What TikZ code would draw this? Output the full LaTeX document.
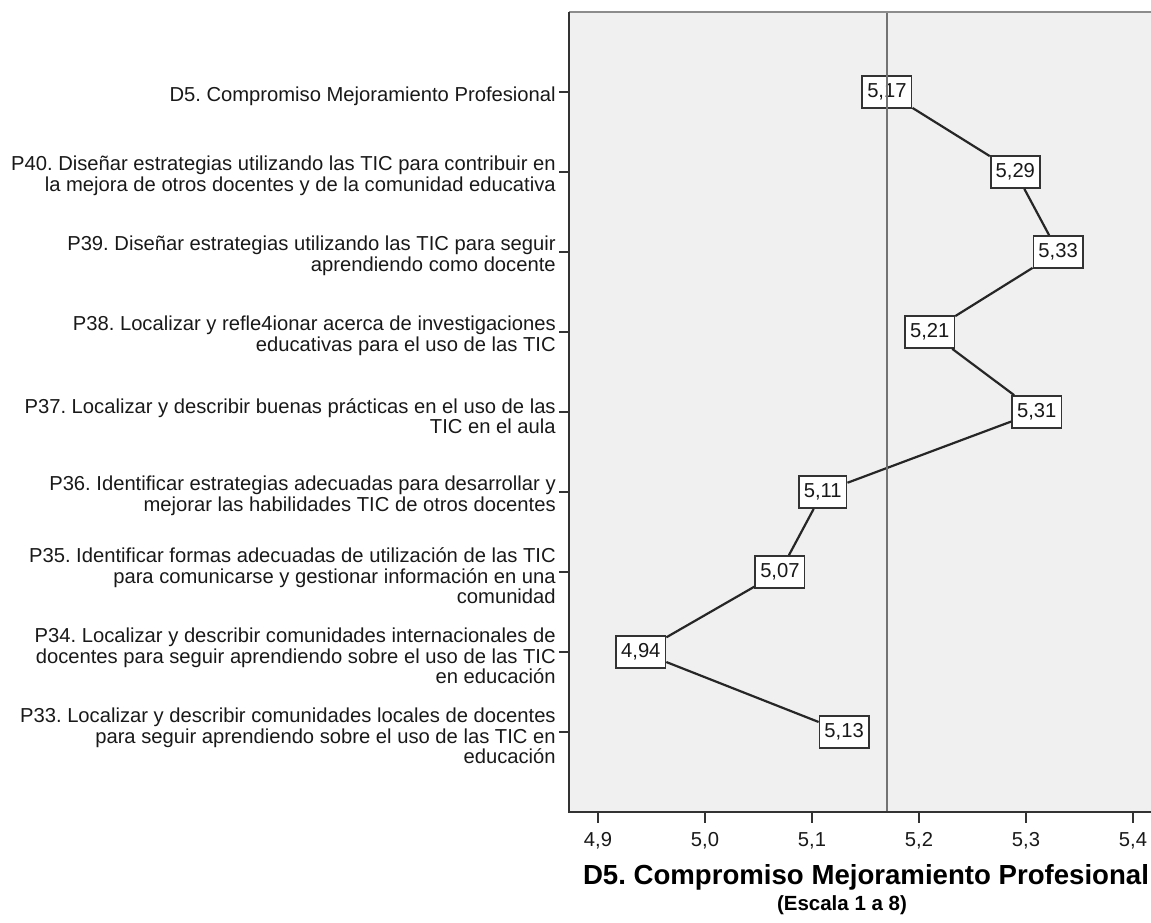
\documentclass[tikz,border=0pt]{standalone}
\usepackage{fontspec}
\setmainfont{Liberation Sans}
\usetikzlibrary{arrows}
\frenchspacing
\newcommand{\xval}[1]{598+(#1-4.9)*1070}

\begin{document}
\begin{tikzpicture}[x = 1pt, y = -1pt, % one unit is one pixel, y runs down
                semithick % line style
            ]

            \tikzstyle{every node}=[inner sep = 0pt, text = black!90,
            font = \fontsize{20.2}{20.5}\selectfont]
            \tikzstyle{item}=[anchor = east, align = right]
            \tikzstyle{valbox}=[draw = black!80, fill = white, line width = 1.7pt,
            inner xsep = 5pt, minimum height = 32pt]
            \tikzstyle{conn}=[draw = black!85, line width = 2.2pt]
            \tikzstyle{axis}=[draw = black!80, line width = 2.2pt]

            \useasboundingbox (0,0) rectangle (1151,922);

            % plot area
            \fill[black!6] (569,12) rectangle (1151,812);
            \draw[black!45, line width = 2.2pt] (569,12) -- (1151,12);
            \draw[axis] (569,12) -- (569,812) -- (1151,812);

            % categories
            \draw[axis] (559,92) -- (569,92); \draw[axis] (559,172) -- (569,172);
            \draw[axis] (559,252) -- (569,252); \draw[axis] (559,332) -- (569,332);
            \draw[axis] (559,412) -- (569,412); \draw[axis] (559,492) -- (569,492);
            \draw[axis] (559,572) -- (569,572); \draw[axis] (559,652) -- (569,652);
            \draw[axis] (559,732) -- (569,732);

            \node[item] (l5) at (556,96) {D5. Compromiso Mejoramiento Profesional};
            \node[item] (l40) at (556,176) {P40. Diseñar estrategias utilizando las TIC para contribuir en\\la mejora de otros docentes y de la comunidad educativa};
            \node[item] (l39) at (556,256) {P39. Diseñar estrategias utilizando las TIC para seguir\\aprendiendo como docente};
            \node[item] (l38) at (556,336) {P38. Localizar y refle4ionar acerca de investigaciones\\educativas para el uso de las TIC};
            \node[item] (l37) at (556,416) {P37. Localizar y describir buenas prácticas en el uso de las\\TIC en el aula};
            \node[item] (l36) at (556,496) {P36. Identificar estrategias adecuadas para desarrollar y\\mejorar las habilidades TIC de otros docentes};
            \node[item] (l35) at (556,576) {P35. Identificar formas adecuadas de utilización de las TIC\\para comunicarse y gestionar información en una\\comunidad};
            \node[item] (l34) at (556,656) {P34. Localizar y describir comunidades internacionales de\\docentes para seguir aprendiendo sobre el uso de las TIC\\en educación};
            \node[item] (l33) at (556,736) {P33. Localizar y describir comunidades locales de docentes\\para seguir aprendiendo sobre el uso de las TIC en\\educación};

            % scale
            \draw[axis] (598,812) -- (598,823); \draw[axis] (705,812) -- (705,823);
            \draw[axis] (812,812) -- (812,823); \draw[axis] (919,812) -- (919,823);
            \draw[axis] (1026,812) -- (1026,823); \draw[axis] (1133,812) -- (1133,823);
            \node (t49) at (598,841) {4,9}; \node (t50) at (705,841) {5,0};
            \node (t51) at (812,841) {5,1}; \node (t52) at (919,841) {5,2};
            \node (t53) at (1026,841) {5,3}; \node (t54) at (1133,841) {5,4};

            % means
            \node[valbox] (d5) at ({\xval{5.17}},92) {5,17};
            \node[valbox] (p40) at ({\xval{5.29}},172) {5,29};
            \node[valbox] (p39) at ({\xval{5.33}},252) {5,33};
            \node[valbox] (p38) at ({\xval{5.21}},332) {5,21};
            \node[valbox] (p37) at ({\xval{5.31}},412) {5,31};
            \node[valbox] (p36) at ({\xval{5.11}},492) {5,11};
            \node[valbox] (p35) at ({\xval{5.07}},572) {5,07};
            \node[valbox] (p34) at ({\xval{4.94}},652) {4,94};
            \node[valbox] (p33) at ({\xval{5.13}},732) {5,13};

            \path[conn] (d5) -- (p40) -- (p39) -- (p38) -- (p37) -- (p36)
            -- (p35) -- (p34) -- (p33);

            % reference at the D5 mean
            \draw[black!55, line width = 2.6pt] ({\xval{5.17}},13) -- ({\xval{5.17}},811);

            \node[font = \fontsize{27.6}{30}\selectfont\bfseries, text = black] (title) at (866,877)
            {D5. Compromiso Mejoramiento Profesional};
            \node[font = \fontsize{20.5}{24}\selectfont\bfseries, text = black] (scale) at (842,905)
            {(Escala 1 a 8)};
\end{tikzpicture}
\end{document}
